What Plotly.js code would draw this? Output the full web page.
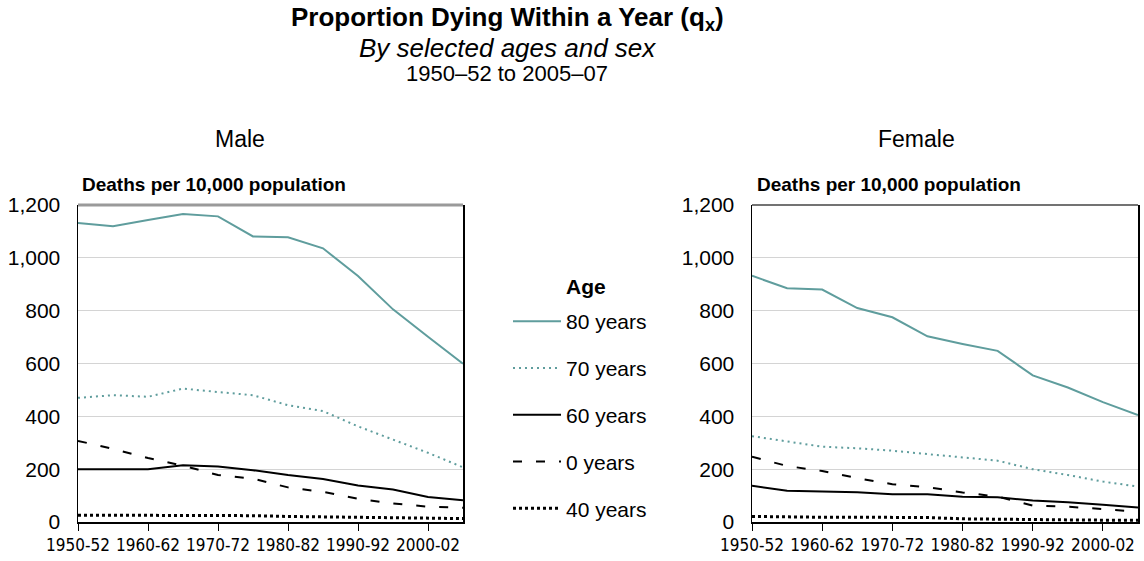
<!DOCTYPE html>
<html>
<head>
<meta charset="utf-8">
<script src="https://cdn.plot.ly/plotly-3.0.1.min.js"></script>
<style>html,body{margin:0;padding:0;background:#fff;}#chart{width:1144px;height:561px;}</style>
</head>
<body>
<div id="chart"></div>
<script>
const periods = ['1950-52','1955-57','1960-62','1965-67','1970-72','1975-77','1980-82','1985-87','1990-92','1995-97','2000-02','2005-07'];
const tickLabels = ['1950-52','1960-62','1970-72','1980-82','1990-92','2000-02'];
const yTicks = [0, 200, 400, 600, 800, 1000, 1200];

const male80 = [1132, 1120, 1143, 1166, 1157, 1081, 1078, 1036, 931, 805, 701, 599];
const male70 = [470, 480, 474, 505, 492, 480, 442, 420, 362, 313, 262, 207];
const male60 = [200, 200, 200, 215, 210, 196, 178, 163, 138, 123, 95, 82];
const male0  = [307, 277, 242, 213, 178, 164, 131, 114, 88, 70, 58, 54];
const male40 = [26, 26, 25, 25, 25, 24, 21, 19, 18, 15, 14, 13];

const female80 = [932, 885, 880, 810, 775, 703, 674, 648, 555, 509, 454, 405];
const female70 = [325, 304, 285, 279, 270, 257, 245, 232, 200, 178, 153, 134];
const female60 = [137, 118, 115, 113, 105, 105, 96, 94, 81, 75, 65, 55];
const female0  = [247, 212, 193, 166, 143, 132, 112, 96, 62, 58, 49, 39];
const female40 = [21, 19, 18, 18, 17, 17, 12, 10, 9, 8, 7, 7];

const seriesNames = ['80 years', '70 years', '60 years', '0 years', '40 years'];

const W = 1144, H = 561;
const px = v => v / W;
const py = v => 1 - v / H;

const teal = '#5f9d9d';
const styles = [
  {color: teal, width: 2, dash: 'solid'},
  {color: teal, width: 2, dash: '2px,4px'},
  {color: '#000', width: 2, dash: 'solid'},
  {color: '#000', width: 2, dash: '9px,14px'},
  {color: '#000', width: 3, dash: '3px,3px'}
];

const maleData = [male80, male70, male60, male0, male40];
const femaleData = [female80, female70, female60, female0, female40];

const traces = [];
maleData.forEach((ys, i) => {
  traces.push({x: periods, y: ys, type: 'scatter', mode: 'lines', name: seriesNames[i],
    xaxis: 'x', yaxis: 'y', line: styles[i], legendgroup: 'g' + i, showlegend: true, hoverinfo: 'skip'});
});
femaleData.forEach((ys, i) => {
  traces.push({x: periods, y: ys, type: 'scatter', mode: 'lines', name: seriesNames[i],
    xaxis: 'x2', yaxis: 'y2', line: styles[i], legendgroup: 'g' + i, showlegend: false, hoverinfo: 'skip'});
});

const baseFont = 'Liberation Sans, Arial, sans-serif';
const xFont = {family: 'Liberation Sans Narrow, DejaVu Sans Condensed, Arial Narrow, sans-serif', size: 17, color: '#000'};

function xAxis(domain) {
  return {domain: domain, type: 'category', categoryorder: 'array', categoryarray: periods,
    range: [0, 11], tickmode: 'array', tickvals: tickLabels, ticktext: tickLabels,
    ticks: 'outside', ticklen: 7, tickwidth: 1, tickcolor: '#000',
    showline: true, linecolor: '#000', linewidth: 1.5, showgrid: false, zeroline: false,
    tickfont: xFont, fixedrange: true};
}
function yAxis(anchor) {
  return {domain: [39 / H, 356 / H], range: [0, 1200], tickmode: 'array', tickvals: yTicks,
    tickformat: ',', showgrid: true, gridcolor: '#d4d4d4', gridwidth: 1, zeroline: false,
    showline: true, linecolor: '#000', linewidth: 1.5, mirror: true, ticks: '',
    ticklabelstandoff: 12, anchor: anchor,
    tickfont: {family: baseFont, size: 21, color: '#000'}, fixedrange: true};
}

const layout = {
  width: W, height: H,
  margin: {l: 0, r: 0, t: 0, b: 0, autoexpand: false},
  paper_bgcolor: '#fff', plot_bgcolor: '#fff',
  font: {family: baseFont, color: '#000'},
  xaxis: Object.assign(xAxis([px(78), px(463)]), {anchor: 'y'}),
  yaxis: yAxis('x'),
  xaxis2: Object.assign(xAxis([px(752), px(1138)]), {anchor: 'y2'}),
  yaxis2: yAxis('x2'),
  showlegend: true,
  legend: {x: px(508), y: py(301), xanchor: 'left', yanchor: 'top',
    bgcolor: 'rgba(0,0,0,0)', borderwidth: 0, tracegroupgap: 16.5, traceorder: 'grouped',
    itemwidth: 48, itemclick: false, itemdoubleclick: false,
    font: {family: baseFont, size: 21, color: '#000'}},
  shapes: [
    {type: 'line', xref: 'x domain', yref: 'y domain', x0: 0, x1: 1, y0: 1, y1: 1,
     line: {color: '#9a9a9a', width: 3}},
    {type: 'line', xref: 'x2 domain', yref: 'y2 domain', x0: 0, x1: 1, y0: 1, y1: 1,
     line: {color: '#444', width: 1.5}}
  ],
  annotations: [
    {text: '<b>Proportion Dying Within a Year (q<sub>x</sub>)</b>', x: px(507), y: py(18), xref: 'paper', yref: 'paper',
     xanchor: 'center', yanchor: 'middle', showarrow: false, font: {family: baseFont, size: 26, color: '#000'}},
    {text: '<i>By selected ages and sex</i>', x: px(507), y: py(48), xref: 'paper', yref: 'paper',
     xanchor: 'center', yanchor: 'middle', showarrow: false, font: {family: baseFont, size: 26, color: '#000'}},
    {text: '1950\u201352 to 2005\u201307', x: px(507), y: py(73), xref: 'paper', yref: 'paper',
     xanchor: 'center', yanchor: 'middle', showarrow: false, font: {family: baseFont, size: 22, color: '#000'}},
    {text: 'Male', x: px(240), y: py(139), xref: 'paper', yref: 'paper',
     xanchor: 'center', yanchor: 'middle', showarrow: false, font: {family: baseFont, size: 23, color: '#000'}},
    {text: 'Female', x: px(916), y: py(139), xref: 'paper', yref: 'paper',
     xanchor: 'center', yanchor: 'middle', showarrow: false, font: {family: baseFont, size: 23, color: '#000'}},
    {text: '<b>Deaths per 10,000 population</b>', x: px(80), y: py(184), xref: 'paper', yref: 'paper',
     xanchor: 'left', yanchor: 'middle', showarrow: false, font: {family: baseFont, size: 19, color: '#000'}},
    {text: '<b>Deaths per 10,000 population</b>', x: px(755), y: py(184), xref: 'paper', yref: 'paper',
     xanchor: 'left', yanchor: 'middle', showarrow: false, font: {family: baseFont, size: 19, color: '#000'}},
    {text: '<b>Age</b>', x: px(586), y: py(286), xref: 'paper', yref: 'paper',
     xanchor: 'center', yanchor: 'middle', showarrow: false, font: {family: baseFont, size: 21, color: '#000'}}
  ]
};

Plotly.newPlot('chart', traces, layout, {staticPlot: true, displayModeBar: false});
</script>
</body>
</html>
